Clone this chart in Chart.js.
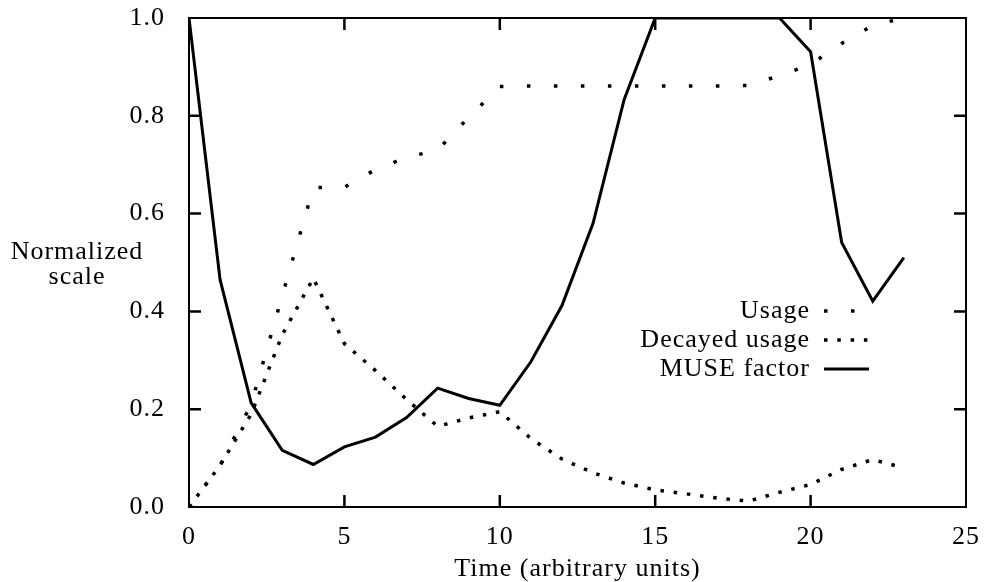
<!DOCTYPE html>
<html>
<head>
<meta charset="utf-8">
<title>MUSE factor</title>
<script src="https://cdn.jsdelivr.net/npm/chart.js@4.4.1/dist/chart.umd.min.js"></script>
<style>
  html, body { margin: 0; padding: 0; background: #fff; }
  canvas { display: block; }
</style>
</head>
<body>
<canvas id="museChart" width="985" height="582"></canvas>
<script>
// values, one point per time unit
const timeSteps = [0, 1, 2, 3, 4, 5, 6, 7, 8, 9, 10, 11, 12, 13, 14, 15, 16, 17, 18, 19, 20, 21, 22, 23];
const usage = [0, 0.085, 0.21, 0.432, 0.653, 0.654, 0.69, 0.715, 0.73, 0.797, 0.86, 0.861, 0.861, 0.861,
               0.861, 0.861, 0.861, 0.861, 0.862, 0.882, 0.905, 0.948, 0.985, 1.0];
const decayedUsage = [0, 0.085, 0.19, 0.352, 0.468, 0.334, 0.279, 0.22, 0.165, 0.182, 0.195, 0.14, 0.098, 0.07,
                      0.049, 0.035, 0.027, 0.018, 0.012, 0.03, 0.046, 0.077, 0.097, 0.08];
const museFactor = [1.0, 0.465, 0.213, 0.116, 0.087, 0.123, 0.143, 0.183, 0.243, 0.222, 0.208, 0.297, 0.412, 0.58,
                    0.833, 1.0, 1.0, 1.0, 1.0, 1.0, 0.931, 0.541, 0.421, 0.51];

const seriesNames = ['Usage', 'Decayed usage', 'MUSE factor'];
const xTicks = [0, 5, 10, 15, 20, 25];
const yTicks = [0, 0.2, 0.4, 0.6, 0.8, 1.0];

const FONT = "'Liberation Serif', 'Times New Roman', serif";

function toPoints(ys) {
    return ys.map((y, i) => ({ x: timeSteps[i], y: y }));
}

// fixed box sizes so the plot frame lands where the original one is
function fixWidth(w) {
    return s => { s.width = w; s.paddingTop = 0; s.paddingBottom = 0; };
}
function fixHeight(h) {
    return s => { s.height = h; s.paddingLeft = 0; s.paddingRight = 0; };
}

// canvas resets on resize, so keep the letter spacing set before measuring / drawing
const spacing = {
    id: 'spacing',
    beforeUpdate(chart) { chart.ctx.letterSpacing = '1px'; },
    beforeDraw(chart) { chart.ctx.letterSpacing = '1px'; }
};

// gnuplot style: tick marks point inward on all four sides
const innerTicks = {
    id: 'innerTicks',
    afterDraw(chart) {
        const { ctx, chartArea: a } = chart;
        const x = chart.scales.x;
        const y = chart.scales.y;
        ctx.save();
        ctx.strokeStyle = '#000';
        ctx.lineWidth = 2.5;
        ctx.beginPath();
        xTicks.slice(1, -1).forEach(v => {
            const px = x.getPixelForValue(v);
            ctx.moveTo(px, a.bottom); ctx.lineTo(px, a.bottom - 12);
            ctx.moveTo(px, a.top); ctx.lineTo(px, a.top + 12);
        });
        yTicks.slice(1, -1).forEach(v => {
            const py = y.getPixelForValue(v);
            ctx.moveTo(a.left, py); ctx.lineTo(a.left + 12, py);
            ctx.moveTo(a.right, py); ctx.lineTo(a.right - 12, py);
        });
        ctx.stroke();
        ctx.restore();
    }
};

// horizontal y label and the key (text left of the sample line)
const labels = {
    id: 'labels',
    afterDraw(chart) {
        const ctx = chart.ctx;
        ctx.save();
        ctx.fillStyle = '#000';
        ctx.font = '26px ' + FONT;
        ctx.textAlign = 'center';
        ctx.textBaseline = 'alphabetic';
        ctx.fillText('Normalized', 77, 259);
        ctx.fillText('scale', 77, 284);

        ctx.textAlign = 'right';
        ctx.textBaseline = 'middle';
        chart.data.datasets.forEach((ds, i) => {
            const rowY = 311 + i * 29;
            ctx.fillText(ds.label, 810, rowY);
            ctx.beginPath();
            ctx.lineWidth = ds.borderWidth;
            ctx.lineCap = 'butt';
            ctx.setLineDash(ds.borderDash || []);
            ctx.strokeStyle = ds.borderColor;
            ctx.moveTo(824, rowY);
            ctx.lineTo(869, rowY);
            ctx.stroke();
        });
        ctx.restore();
    }
};

Chart.defaults.font.family = FONT;
Chart.defaults.font.size = 26;
Chart.defaults.color = '#000';

const ctx = document.getElementById('museChart').getContext('2d');
const chart = new Chart(ctx, {
    type: 'line',
    data: {
        datasets: [{
            label: seriesNames[0],
            data: toPoints(usage),
            borderColor: '#000',
            borderWidth: 3.5,
            borderDash: [3.5, 23.5],
            borderCapStyle: 'butt'
        }, {
            label: seriesNames[1],
            data: toPoints(decayedUsage),
            borderColor: '#000',
            borderWidth: 3.5,
            borderDash: [3.5, 9.8],
            borderCapStyle: 'butt'
        }, {
            label: seriesNames[2],
            data: toPoints(museFactor),
            borderColor: '#000',
            borderWidth: 3,
            borderJoinStyle: 'miter'
        }]
    },
    options: {
        responsive: false,
        animation: false,
        layout: { padding: 0 },
        elements: {
            point: { radius: 0 },
            line: { tension: 0, fill: false }
        },
        plugins: {
            legend: { display: false },
            tooltip: { enabled: false }
        },
        scales: {
            x: {
                type: 'linear',
                position: 'bottom',
                min: 0,
                max: 25,
                afterBuildTicks: s => { s.ticks = xTicks.map(v => ({ value: v })); },
                afterFit: fixHeight(75),
                grid: { display: false },
                border: { display: true, color: '#000', width: 2 },
                ticks: { padding: 7, maxRotation: 0 },
                title: {
                    display: true,
                    text: 'Time (arbitrary units)',
                    font: { size: 26, lineHeight: 1 },
                    padding: { top: 0, bottom: 0 }
                }
            },
            xTop: {
                type: 'linear',
                position: 'top',
                min: 0,
                max: 25,
                afterFit: fixHeight(18),
                grid: { display: false },
                border: { display: true, color: '#000', width: 2 },
                ticks: { display: false }
            },
            y: {
                type: 'linear',
                position: 'left',
                min: 0,
                max: 1,
                afterBuildTicks: s => { s.ticks = yTicks.map(v => ({ value: v })); },
                afterFit: fixWidth(189),
                grid: { display: false },
                border: { display: true, color: '#000', width: 2 },
                ticks: {
                    padding: 16,
                    callback: v => v.toFixed(1)
                }
            },
            yRight: {
                type: 'linear',
                position: 'right',
                min: 0,
                max: 1,
                afterFit: fixWidth(19),
                grid: { display: false },
                border: { display: true, color: '#000', width: 2 },
                ticks: { display: false }
            }
        }
    },
    plugins: [spacing, innerTicks, labels]
});
</script>
</body>
</html>
